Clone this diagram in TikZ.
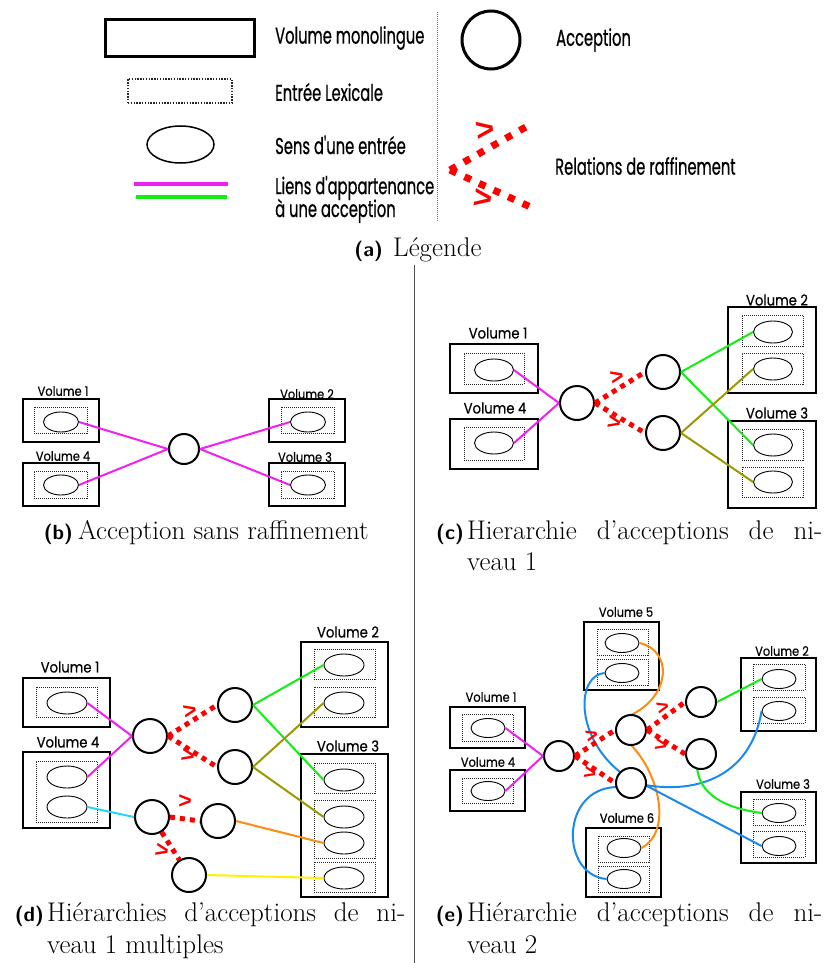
\documentclass[tikz,border=0pt]{standalone}
\usepackage{fontspec}
\usetikzlibrary{shapes.geometric}
\newfontfamily\futcond[FakeStretch=0.64,FakeBold=0.6]{Poppins}
\newfontfamily\futlab[FakeStretch=0.88,FakeBold=0.5]{Poppins}
\newfontfamily\chevfont{Liberation Sans}
\definecolor{lkmagenta}{HTML}{F020F0}
\definecolor{lkgreen}{HTML}{11EE11}
\definecolor{lkolive}{HTML}{999900}
\definecolor{lkcyan}{HTML}{22D8F8}
\definecolor{lkorange}{HTML}{FF8C10}
\definecolor{lkyellow}{HTML}{FFF200}
\definecolor{lkblue}{HTML}{1A8AEE}
\newcommand{\caplab}[1]{{\fontsize{20.5}{24}\sffamily\bfseries #1}}
\begin{document}
\begin{tikzpicture}[x=1pt,y=-1pt,
  vol/.style={draw, line width=2pt, inner sep=0},
  entry/.style={draw=black!85, line width=0.8pt, dash pattern=on 1pt off 1pt, inner sep=0},
  sense/.style={draw, ellipse, line width=0.9pt, inner sep=0},
  acc/.style={draw, circle, line width=2pt, inner sep=0, minimum size=34pt},
  accs/.style={acc, minimum size=30pt},
  refine/.style={draw=red, line width=5pt, dash pattern=on 5pt off 5pt},
  gt/.style={text=red, font=\chevfont\bfseries\fontsize{23}{23}\selectfont, inner sep=0},
  gts/.style={gt, font=\chevfont\bfseries\fontsize{21}{21}\selectfont},
  vlab/.style={font=\futlab\fontsize{15}{15}\selectfont, inner sep=0},
  vlabs/.style={font=\futlab\fontsize{13}{13}\selectfont, inner sep=0},
  legtext/.style={font=\futcond\fontsize{23}{23}\selectfont, inner sep=0, anchor=west},
  link/.style={line width=2pt},
  captext/.style={font=\fontsize{27}{32}\selectfont, inner sep=0, anchor=base west},
  caplabel/.style={inner sep=0, anchor=base east},
]
\useasboundingbox (0,0) rectangle (833,963);

% ---------------- Legend ----------------
\node[vol, line width=3pt, minimum width=149pt, minimum height=37pt] (lg-vol) at (179.5,38.5) {};
\node[legtext] (lg-vol-t) at (275,38) {Volume monolingue};
\node[entry, line width=1.4pt, dash pattern=on 1.4pt off 1.4pt, minimum width=104pt, minimum height=24pt] (lg-ent) at (180,91) {};
\node[legtext] (lg-ent-t) at (275,92) {Entrée Lexicale};
\node[sense, line width=1.5pt, minimum width=67pt, minimum height=37pt] (lg-sense) at (180.5,144.5) {};
\node[legtext] (lg-sense-t) at (275,145) {Sens d'une entrée};
\coordinate (lg-m1) at (134,184); \coordinate (lg-m2) at (228,184);
\coordinate (lg-g1) at (136,197); \coordinate (lg-g2) at (227,197);
\draw[lkmagenta, line width=4pt] (lg-m1) -- (lg-m2);
\draw[lkgreen, line width=4pt] (lg-g1) -- (lg-g2);
\node[legtext] (lg-link-t1) at (275,188) {Liens d'appartenance};
\node[legtext] (lg-link-t2) at (275,211) {à une acception};
\coordinate (lg-sep1) at (437,12); \coordinate (lg-sep2) at (437,222);
\draw[black!55, line width=0.8pt, dash pattern=on 1pt off 1pt] (lg-sep1) -- (lg-sep2);
\node[acc, line width=3pt, minimum size=58pt] (lg-acc) at (491,40) {};
\node[legtext] (lg-acc-t) at (556,40) {Acception};
\coordinate (lg-r0) at (450,170); \coordinate (lg-r1) at (533,123); \coordinate (lg-r2) at (537,210);
\draw[refine, line width=7pt, dash pattern=on 7pt off 9pt] (lg-r0) -- (lg-r1);
\draw[refine, line width=7pt, dash pattern=on 7pt off 9pt] (lg-r0) -- (lg-r2);
\node[gt, font=\chevfont\bfseries\fontsize{32}{32}\selectfont, rotate=8] (lg-gt1) at (485,131) {>};
\node[gt, font=\chevfont\bfseries\fontsize{32}{32}\selectfont, rotate=-8] (lg-gt2) at (483,199) {>};
\node[legtext] (lg-ref-t) at (555,166) {Relations de raffinement};
\node[caplabel] (cap-a-l) at (383,256) {\caplab{(a)}};
\node[captext] (cap-a) at (393,256) {Légende};

% panel separator
\coordinate (sep-top) at (414,265); \coordinate (sep-bot) at (414,963);
\draw[black!70, line width=1pt] (sep-top) -- (sep-bot);

% ---------------- (b) ----------------
\node[vol, minimum width=76pt, minimum height=43pt] (b-v1) at (61,420.5) {};
\node[vlabs] (b-v1-l) at (63,391) {Volume 1};
\node[entry, minimum width=53pt, minimum height=26pt] (b-v1-e) at (60.5,420) {};
\node[sense, minimum width=35pt, minimum height=20pt] (b-v1-s) at (61,422) {};
\node[vol, minimum width=76pt, minimum height=43pt] (b-v4) at (61,484.5) {};
\node[vlabs] (b-v4-l) at (63,456) {Volume 4};
\node[entry, minimum width=53pt, minimum height=27pt] (b-v4-e) at (60.5,484.5) {};
\node[sense, minimum width=35pt, minimum height=20pt] (b-v4-s) at (61,485) {};
\node[vol, minimum width=76pt, minimum height=43pt] (b-v2) at (307,420.5) {};
\node[vlabs] (b-v2-l) at (307,394) {Volume 2};
\node[entry, minimum width=53pt, minimum height=26pt] (b-v2-e) at (307.5,420) {};
\node[sense, minimum width=35pt, minimum height=20pt] (b-v2-s) at (308,422) {};
\node[vol, minimum width=76pt, minimum height=43pt] (b-v3) at (307,484.5) {};
\node[vlabs] (b-v3-l) at (305,457) {Volume 3};
\node[entry, minimum width=53pt, minimum height=27pt] (b-v3-e) at (307.5,484.5) {};
\node[sense, minimum width=35pt, minimum height=20pt] (b-v3-s) at (308,485) {};
\node[accs] (b-a) at (184,449) {};
\draw[link, lkmagenta] (b-v1-s.east) -- (b-a.west);
\draw[link, lkmagenta] (b-v4-s.east) -- (b-a.west);
\draw[link, lkmagenta] (b-a.east) -- (b-v2-s.west);
\draw[link, lkmagenta] (b-a.east) -- (b-v3-s.west);
\node[caplabel] (cap-b-l) at (73,539) {\caplab{(b)}};
\node[captext] (cap-b) at (78,539) {Acception sans raffinement};

% ---------------- (c) ----------------
\node[vol, minimum width=88pt, minimum height=49pt] (c-v1) at (494,368.5) {};
\node[vlab] (c-v1-l) at (498,333) {Volume 1};
\node[entry, minimum width=60pt, minimum height=31pt] (c-v1-e) at (494,368.5) {};
\node[sense, minimum width=39pt, minimum height=22pt] (c-v1-s) at (494,370) {};
\node[vol, minimum width=88pt, minimum height=50pt] (c-v4) at (494,444) {};
\node[vlab] (c-v4-l) at (495,408) {Volume 4};
\node[entry, minimum width=60pt, minimum height=33pt] (c-v4-e) at (494,443.5) {};
\node[sense, minimum width=39pt, minimum height=22pt] (c-v4-s) at (494,443) {};
\node[vol, minimum width=88pt, minimum height=86pt] (c-v2) at (772,350) {};
\node[vlab] (c-v2-l) at (777,300) {Volume 2};
\node[entry, minimum width=61pt, minimum height=31pt] (c-v2-e1) at (772.5,330.5) {};
\node[sense, minimum width=39pt, minimum height=22pt] (c-v2-s1) at (773,332) {};
\node[entry, minimum width=61pt, minimum height=31pt] (c-v2-e2) at (772.5,368.5) {};
\node[sense, minimum width=39pt, minimum height=22pt] (c-v2-s2) at (773,369) {};
\node[vol, minimum width=88pt, minimum height=87pt] (c-v3) at (772,464.5) {};
\node[vlab] (c-v3-l) at (777,413) {Volume 3};
\node[entry, minimum width=61pt, minimum height=31pt] (c-v3-e1) at (772.5,444.5) {};
\node[sense, minimum width=39pt, minimum height=22pt] (c-v3-s1) at (773,445) {};
\node[entry, minimum width=61pt, minimum height=30pt] (c-v3-e2) at (772.5,482) {};
\node[sense, minimum width=39pt, minimum height=22pt] (c-v3-s2) at (773,482) {};
\node[acc] (c-a) at (577,403) {};
\node[acc] (c-au) at (663,372) {};
\node[acc] (c-al) at (663,433) {};
\draw[link, lkmagenta] (c-v1-s.east) -- (c-a.west);
\draw[link, lkmagenta] (c-v4-s.east) -- (c-a.west);
\draw[refine] (c-a.east) -- (c-au.west);
\draw[refine] (c-a.east) -- (c-al.west);
\node[gt, rotate=12] (c-gt1) at (617,377) {>};
\node[gt, rotate=-12] (c-gt2) at (614,423) {>};
\draw[link, lkgreen] (c-au.east) -- (c-v2-s1.west);
\draw[link, lkgreen] (c-au.east) -- (c-v3-s1.west);
\draw[link, lkolive] (c-al.east) -- (c-v2-s2.west);
\draw[link, lkolive] (c-al.east) -- (c-v3-s2.west);
\node[caplabel] (cap-c-l) at (464,539) {\caplab{(c)}};
\node[captext] (cap-c1) at (467,539) {\makebox[355pt][s]{Hierarchie d’acceptions de ni-}};
\node[captext] (cap-c2) at (467,570) {veau \oldstylenums{1}};

% ---------------- (d) ----------------
\node[vol, minimum width=87pt, minimum height=49pt] (d-v1) at (66.5,702.5) {};
\node[vlab] (d-v1-l) at (70,667) {Volume 1};
\node[entry, minimum width=61pt, minimum height=30pt] (d-v1-e) at (66.5,702) {};
\node[sense, minimum width=40pt, minimum height=22pt] (d-v1-s) at (67,703) {};
\node[vol, minimum width=87pt, minimum height=76pt] (d-v4) at (66.5,790) {};
\node[vlab] (d-v4-l) at (68,742) {Volume 4};
\node[entry, minimum width=61pt, minimum height=61pt] (d-v4-e) at (66.5,791.5) {};
\node[sense, minimum width=40pt, minimum height=22pt] (d-v4-s1) at (67,777) {};
\node[sense, minimum width=40pt, minimum height=22pt] (d-v4-s2) at (67,807) {};
\node[vol, minimum width=87pt, minimum height=85pt] (d-v2) at (344.5,684.5) {};
\node[vlab] (d-v2-l) at (348,632) {Volume 2};
\node[entry, minimum width=61pt, minimum height=30pt] (d-v2-e1) at (344.5,664) {};
\node[sense, minimum width=40pt, minimum height=22pt] (d-v2-s1) at (344,665) {};
\node[entry, minimum width=61pt, minimum height=30pt] (d-v2-e2) at (344.5,702) {};
\node[sense, minimum width=40pt, minimum height=22pt] (d-v2-s2) at (344,703) {};
\node[vol, minimum width=87pt, minimum height=143pt] (d-v3) at (344.5,825.5) {};
\node[vlab] (d-v3-l) at (348,746) {Volume 3};
\node[entry, minimum width=61pt, minimum height=30pt] (d-v3-e1) at (344.5,778) {};
\node[sense, minimum width=40pt, minimum height=22pt] (d-v3-s1) at (344,780) {};
\node[entry, minimum width=61pt, minimum height=58pt] (d-v3-e2) at (344.5,829) {};
\node[sense, minimum width=40pt, minimum height=22pt] (d-v3-s2) at (344,817) {};
\node[sense, minimum width=40pt, minimum height=22pt] (d-v3-s3) at (344,843) {};
\node[entry, minimum width=61pt, minimum height=30pt] (d-v3-e3) at (344.5,877) {};
\node[sense, minimum width=40pt, minimum height=22pt] (d-v3-s4) at (344,878) {};
\node[acc] (d-a1) at (150,736) {};
\node[acc] (d-au) at (235,705) {};
\node[acc] (d-al) at (235,767) {};
\node[acc] (d-a2) at (152,817) {};
\node[acc] (d-a3) at (218,821) {};
\node[acc] (d-a4) at (189,875) {};
\draw[link, lkmagenta] (d-v1-s.east) -- (d-a1.west);
\draw[link, lkmagenta] (d-v4-s1.east) -- (d-a1.west);
\draw[link, lkcyan] (d-v4-s2.east) -- (d-a2.west);
\draw[refine] (d-a1.east) -- (d-au.west);
\draw[refine] (d-a1.east) -- (d-al.west);
\draw[refine] (d-a2.east) -- (d-a3.west);
\draw[refine] (d-a2) -- (d-a4);
\node[gt, rotate=12] (d-gt1) at (190,711) {>};
\node[gt, rotate=-12] (d-gt2) at (188,756) {>};
\node[gt] (d-gt3) at (185,802) {>};
\node[gt, rotate=-12] (d-gt4) at (162,851) {>};
\draw[link, lkgreen] (d-au.east) -- (d-v2-s1.west);
\draw[link, lkgreen] (d-au.east) -- (d-v3-s1.west);
\draw[link, lkolive] (d-al.east) -- (d-v2-s2.west);
\draw[link, lkolive] (d-al.east) -- (d-v3-s2.west);
\draw[link, lkorange] (d-a3.east) -- (d-v3-s3.west);
\draw[link, lkyellow] (d-a4.east) -- (d-v3-s4.west);
\node[caplabel] (cap-d-l) at (44,921) {\caplab{(d)}};
\node[captext] (cap-d1) at (47,921) {\makebox[358pt][s]{Hiérarchies d’acceptions de ni-}};
\node[captext] (cap-d2) at (47,953) {veau \oldstylenums{1} multiples};

% ---------------- (e) ----------------
\node[vol, minimum width=75pt, minimum height=41pt] (e-v1) at (487.5,727.5) {};
\node[vlabs] (e-v1-l) at (491,697) {Volume 1};
\node[entry, minimum width=51pt, minimum height=27pt] (e-v1-e) at (487.5,727.5) {};
\node[sense, minimum width=34pt, minimum height=19pt] (e-v1-s) at (488,728) {};
\node[vol, minimum width=75pt, minimum height=41pt] (e-v4) at (487.5,790.5) {};
\node[vlabs] (e-v4-l) at (488,762) {Volume 4};
\node[entry, minimum width=51pt, minimum height=25pt] (e-v4-e) at (487.5,790.5) {};
\node[sense, minimum width=34pt, minimum height=19pt] (e-v4-s) at (488,791) {};
\node[vol, minimum width=75pt, minimum height=68pt] (e-v5) at (621.5,656) {};
\node[vlabs] (e-v5-l) at (626,612) {Volume 5};
\node[entry, minimum width=51pt, minimum height=26pt] (e-v5-e1) at (622.5,642) {};
\node[sense, minimum width=34pt, minimum height=19pt] (e-v5-s1) at (622,643) {};
\node[entry, minimum width=51pt, minimum height=26pt] (e-v5-e2) at (622.5,672) {};
\node[sense, minimum width=34pt, minimum height=19pt] (e-v5-s2) at (622,673) {};
\node[vol, minimum width=75pt, minimum height=69pt] (e-v6) at (623.5,862.5) {};
\node[vlabs] (e-v6-l) at (627,818) {Volume 6};
\node[entry, minimum width=51pt, minimum height=26pt] (e-v6-e1) at (623.5,849) {};
\node[sense, minimum width=34pt, minimum height=19pt] (e-v6-s1) at (624,848) {};
\node[entry, minimum width=51pt, minimum height=26pt] (e-v6-e2) at (623.5,879) {};
\node[sense, minimum width=34pt, minimum height=19pt] (e-v6-s2) at (624,879) {};
\node[vol, minimum width=75pt, minimum height=73pt] (e-v2) at (778.5,694.5) {};
\node[vlabs] (e-v2-l) at (782,651) {Volume 2};
\node[entry, minimum width=52pt, minimum height=26pt] (e-v2-e1) at (779,677) {};
\node[sense, minimum width=34pt, minimum height=19pt] (e-v2-s1) at (779,679) {};
\node[entry, minimum width=52pt, minimum height=26pt] (e-v2-e2) at (779,710) {};
\node[sense, minimum width=34pt, minimum height=19pt] (e-v2-s2) at (779,711) {};
\node[vol, minimum width=75pt, minimum height=71pt] (e-v3) at (778.5,827.5) {};
\node[vlabs] (e-v3-l) at (783,784) {Volume 3};
\node[entry, minimum width=52pt, minimum height=26pt] (e-v3-e1) at (779,812) {};
\node[sense, minimum width=34pt, minimum height=19pt] (e-v3-s1) at (779,813) {};
\node[entry, minimum width=52pt, minimum height=26pt] (e-v3-e2) at (779,844) {};
\node[sense, minimum width=34pt, minimum height=19pt] (e-v3-s2) at (779,846) {};
% curved membership links, drawn beneath the acceptions
\draw[link, lkorange] (e-v5-s1.east) .. controls (672,650) and (672,695) .. (631,715);
\draw[link, lkorange] (631,745) .. controls (660,775) and (672,832) .. (e-v6-s1.east);
\draw[link, lkblue] (e-v5-s2.west) .. controls (577,675) and (574,735) .. (620,772);
\draw[link, lkblue] (617,787) .. controls (560,788) and (560,875) .. (e-v6-s2.west);
\draw[link, lkblue] (645,785) .. controls (705,795) and (752,770) .. (e-v2-s2.west);
\draw[link, lkblue] (645,785) -- (e-v3-s2.west);
\draw[link, lkgreen] (697,768) .. controls (700,795) and (725,808) .. (e-v3-s1.west);
\node[accs, fill=white] (e-m) at (559,756) {};
\node[accs, fill=white] (e-a) at (631,730) {};
\node[accs, fill=white] (e-b) at (631,783) {};
\node[accs, fill=white] (e-c) at (701,702) {};
\node[accs, fill=white] (e-d) at (701,754) {};
\draw[link, lkmagenta] (e-v1-s.east) -- (e-m.west);
\draw[link, lkmagenta] (e-v4-s.east) -- (e-m.west);
\draw[link, lkgreen] (e-c.east) -- (e-v2-s1.west);
\draw[refine] (e-m.east) -- (e-a.west);
\draw[refine] (e-m.east) -- (e-b.west);
\draw[refine] (e-a.east) -- (e-c.west);
\draw[refine] (e-a.east) -- (e-d.west);
\node[gts, rotate=15] (e-gt1) at (592,736) {>};
\node[gts, rotate=-12] (e-gt2) at (590,774) {>};
\node[gts, rotate=15] (e-gt3) at (663,708) {>};
\node[gts, rotate=-12] (e-gt4) at (661,746) {>};
\node[caplabel] (cap-e-l) at (464,921) {\caplab{(e)}};
\node[captext] (cap-e1) at (467,921) {\makebox[355pt][s]{Hiérarchie d’acceptions de ni-}};
\node[captext] (cap-e2) at (467,953) {veau \oldstylenums{2}};
\end{tikzpicture}
\end{document}
